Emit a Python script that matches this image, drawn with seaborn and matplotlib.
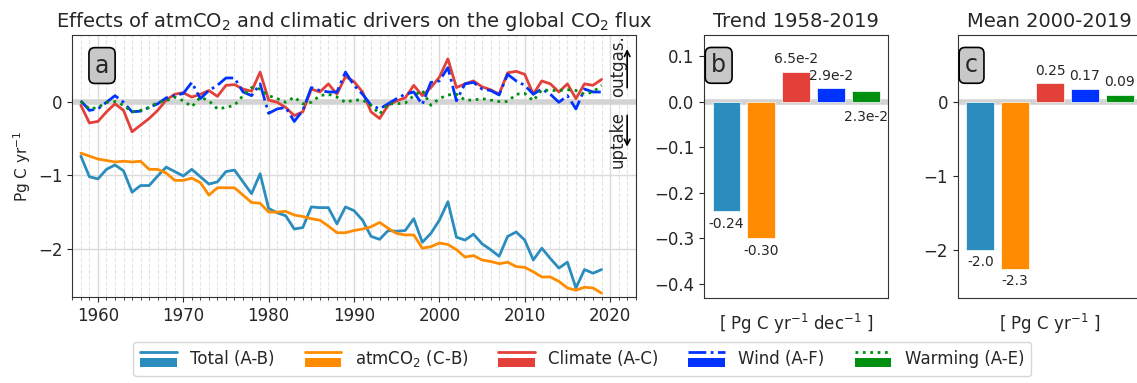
import numpy as np
import pandas as pd
import matplotlib
matplotlib.use("Agg")
import matplotlib.pyplot as plt
import seaborn as sns
from matplotlib.lines import Line2D
from matplotlib.patches import Patch, Rectangle
from matplotlib.legend_handler import HandlerBase
from matplotlib.ticker import MultipleLocator

# yearly series (Pg C / yr)
years = list(range(1958, 2020))

total = [-0.74, -1.02, -1.05, -0.92, -0.86, -0.94, -1.23, -1.14, -1.14, -1.01,
         -0.89, -0.95, -1.01, -0.92, -1.02, -1.12, -1.09, -0.95, -0.93, -1.09,
         -1.25, -0.98, -1.45, -1.51, -1.55, -1.73, -1.71, -1.43, -1.44, -1.44,
         -1.66, -1.43, -1.48, -1.61, -1.83, -1.87, -1.75, -1.76, -1.75, -1.59,
         -1.91, -1.79, -1.61, -1.36, -1.84, -1.88, -1.80, -1.93, -2.01, -2.10,
         -1.83, -1.77, -1.88, -2.15, -1.99, -2.13, -2.26, -2.18, -2.53, -2.28,
         -2.33, -2.28]
atmco2 = [-0.70, -0.74, -0.78, -0.80, -0.82, -0.81, -0.82, -0.81, -0.92, -0.92,
          -0.97, -1.07, -1.07, -1.04, -1.10, -1.27, -1.17, -1.17, -1.17, -1.27,
          -1.37, -1.38, -1.50, -1.50, -1.49, -1.54, -1.56, -1.59, -1.61, -1.69,
          -1.78, -1.78, -1.75, -1.73, -1.70, -1.64, -1.72, -1.79, -1.81, -1.81,
          -1.99, -1.97, -1.92, -1.94, -2.01, -2.11, -2.09, -2.15, -2.17, -2.20,
          -2.18, -2.24, -2.25, -2.31, -2.38, -2.38, -2.44, -2.53, -2.56, -2.52,
          -2.53, -2.60]
climate = [-0.05, -0.29, -0.27, -0.14, -0.03, -0.12, -0.41, -0.32, -0.23, -0.12,
           0.02, 0.10, 0.12, 0.06, 0.10, 0.15, 0.07, 0.22, 0.23, 0.17,
           0.14, 0.40, 0.02, -0.01, -0.08, -0.19, -0.14, 0.17, 0.13, 0.24,
           0.10, 0.34, 0.27, 0.13, -0.14, -0.23, -0.05, 0.01, 0.05, 0.22,
           0.08, 0.19, 0.33, 0.58, 0.19, 0.24, 0.28, 0.20, 0.16, 0.10,
           0.39, 0.41, 0.37, 0.10, 0.28, 0.24, 0.13, 0.24, 0.04, 0.24,
           0.22, 0.30]
wind = [0.01, -0.12, -0.10, -0.01, 0.08, -0.01, -0.14, -0.13, -0.08, -0.03,
        0.05, 0.08, 0.11, 0.26, 0.04, 0.15, 0.22, 0.32, 0.32, 0.13,
        0.08, 0.24, -0.16, -0.10, -0.08, -0.27, -0.12, 0.19, 0.15, 0.13,
        0.13, 0.40, 0.22, 0.10, -0.05, -0.10, -0.03, 0.04, 0.10, 0.13,
        -0.04, 0.26, 0.28, 0.46, 0.01, 0.24, 0.26, 0.17, 0.15, 0.09,
        0.37, 0.28, 0.22, 0.10, 0.17, 0.10, -0.01, 0.08, -0.10, 0.17,
        0.13, 0.13]
warming = [0.00, -0.10, -0.08, -0.01, 0.00, -0.05, -0.14, -0.12, -0.08, -0.01,
           0.01, 0.06, 0.01, -0.07, 0.06, 0.01, -0.10, -0.08, -0.05, 0.08,
           0.19, 0.17, 0.08, 0.04, -0.01, 0.06, -0.03, -0.01, 0.08, 0.10,
           0.06, -0.01, 0.02, 0.02, -0.05, -0.17, -0.03, -0.03, -0.02, 0.08,
           0.15, -0.05, 0.04, 0.09, 0.10, 0.02, 0.02, 0.04, 0.02, 0.00,
           0.00, 0.10, 0.11, 0.01, 0.16, 0.15, 0.15, 0.16, 0.15, 0.10,
           0.13, 0.22]

drivers = ["Total (A-B)", "atmCO$_2$ (C-B)", "Climate (A-C)", "Wind (A-F)", "Warming (A-E)"]
colors = ["#2b8cbe", "#ff8c00", "#e3403a", "#0033ff", "#00900f"]
styles = ["-", "-", "-", "-.", ":"]

trend = [-0.24, -0.30, 0.065, 0.029, 0.023]
trend_labels = ["-0.24", "-0.30", "6.5e-2", "2.9e-2", "2.3e-2"]
mean = [-2.0, -2.26, 0.25, 0.17, 0.09]
mean_labels = ["-2.0", "-2.3", "0.25", "0.17", "0.09"]

sns.set_style("ticks")
plt.rcParams['font.family'] = ['DejaVu Sans']
plt.rcParams['axes.edgecolor'] = '#333333'

fig = plt.figure(figsize=(11.37, 3.83), dpi=100)
ax1 = fig.add_axes([0.0636, 0.225, 0.4955, 0.683])
ax2 = fig.add_axes([0.619, 0.2227, 0.1618, 0.686])
ax3 = fig.add_axes([0.8423, 0.2227, 0.1618, 0.686])

# ---- panel a: time series
ax1.axhline(0, color='#d3d3d3', lw=4, zorder=1)
series = [total, atmco2, climate, wind, warming]
for vals, c, ls in zip(series, colors, styles):
    sns.lineplot(x=years, y=vals, color=c, lw=2, ax=ax1, zorder=3)
    ax1.lines[-1].set_linestyle(ls)
ax1.set_xlim(1957, 2023)
ax1.set_ylim(-2.65, 0.9)
ax1.xaxis.set_major_locator(MultipleLocator(10))
ax1.xaxis.set_minor_locator(MultipleLocator(1))
ax1.yaxis.set_major_locator(MultipleLocator(1))
ax1.grid(which='major', color='#dadada', lw=1, zorder=0)
ax1.grid(which='minor', axis='x', color='#e4e4e4', lw=0.8, ls='--', zorder=0)
ax1.tick_params(labelsize=12)
ax1.set_ylabel("Pg C yr$^{-1}$", fontsize=11)
ax1.set_title("Effects of atmCO$_2$ and climatic drivers on the global CO$_2$ flux", fontsize=14)
ax1.text(2020.9, 0.48, "outgas.", rotation=90, ha='center', va='center', fontsize=12)
ax1.text(2020.9, -0.52, "uptake", rotation=90, ha='center', va='center', fontsize=12)
ax1.annotate("", xy=(2022.0, 0.75), xytext=(2022.0, 0.15),
             arrowprops=dict(arrowstyle='->', color='black', lw=1.2))
ax1.annotate("", xy=(2022.0, -0.65), xytext=(2022.0, -0.15),
             arrowprops=dict(arrowstyle='->', color='black', lw=1.2))

box = dict(boxstyle='round,pad=0.25', fc='#c8c8c8', ec='black', lw=1.2)


def bars(ax, vals, labels, below=()):
    df = pd.DataFrame({"driver": drivers, "value": vals})
    ax.axhline(0, color='#d3d3d3', lw=4, zorder=0)
    sns.barplot(data=df, x="driver", y="value", hue="driver", order=drivers,
                hue_order=drivers, palette=colors, saturation=1, legend=False, ax=ax,
                width=0.8, edgecolor='white', lw=0.5, zorder=2)
    for i, cont in enumerate(ax.containers):
        if i in below:
            ax.annotate(labels[i], (i, 0), xytext=(0, -6), textcoords='offset points',
                        ha='center', va='top', fontsize=10)
        else:
            ax.bar_label(cont, labels=[labels[i]], padding=4, fontsize=10)
    ax.set_xlim(-0.65, 4.63)
    ax.set_xticks([])
    ax.set_ylabel("")
    ax.tick_params(labelsize=12)


bars(ax2, trend, trend_labels, below=(4,))
ax2.set_ylim(-0.43, 0.146)
ax2.yaxis.set_major_locator(MultipleLocator(0.1))
ax2.set_title("Trend 1958-2019", fontsize=14)
ax2.set_xlabel("[ Pg C yr$^{-1}$ dec$^{-1}$ ]", fontsize=12, labelpad=10)

bars(ax3, mean, mean_labels)
ax3.set_ylim(-2.65, 0.9)
ax3.yaxis.set_major_locator(MultipleLocator(1))
ax3.set_title("Mean 2000-2019", fontsize=14)
ax3.set_xlabel("[ Pg C yr$^{-1}$ ]", fontsize=12, labelpad=10)

for ax, lab in zip([ax1, ax2, ax3], "abc"):
    ax.text(0.04, 0.93, lab, transform=ax.transAxes, fontsize=17, ha='left', va='top',
            bbox=box, zorder=5)


# legend: line sample above a filled patch
class LineOverPatch(HandlerBase):
    def create_artists(self, legend, orig_handle, xdescent, ydescent, width, height,
                       fontsize, trans):
        ln, pt = orig_handle
        l = Line2D([-xdescent, -xdescent + width], [height * 1.05] * 2, color=ln.get_color(),
                   ls=ln.get_linestyle(), lw=2, transform=trans)
        r = Rectangle((-xdescent, -ydescent - height * 0.25), width, height * 0.8,
                      fc=pt.get_facecolor(), ec='none', transform=trans)
        return [l, r]


handles = [(Line2D([], [], color=c, ls=ls), Patch(color=c)) for c, ls in zip(colors, styles)]
fig.legend(handles, drivers, handler_map={tuple: LineOverPatch()}, loc='center',
           bbox_to_anchor=(0.512, 0.063), ncol=5, fontsize=12, frameon=True,
           handlelength=2.2, columnspacing=1.8, edgecolor='#cccccc')

fig.savefig("out.png", dpi=100)
